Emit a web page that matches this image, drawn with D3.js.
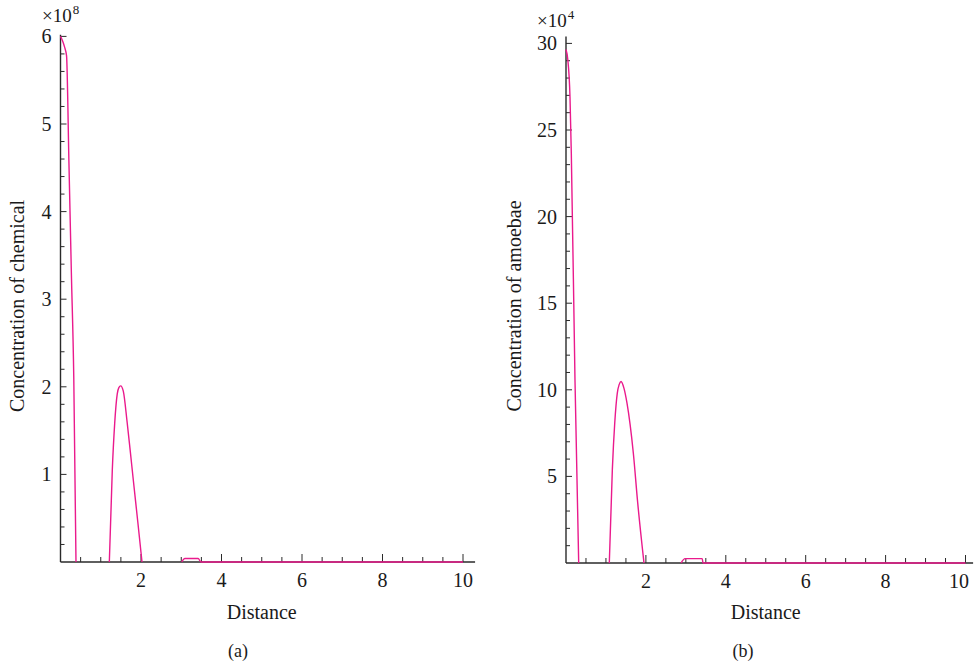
<!DOCTYPE html>
<meta charset="utf-8">

<style>
body {
    margin:0;
    background-color:white;
    }
svg text {
    font-family:"Liberation Serif", "Times New Roman", "DejaVu Serif", serif;
    fill:#1a1a1a;
    }
</style>

<script src="https://d3js.org/d3.v7.min.js"></script>

<div id="chart"></div>

<script>

// panel (a): distance and concentration of chemical (x 10^8)
var distA = [0, 0.05, 0.10, 0.15, 0.21, 0.27, 0.33, 0.385, 0.8,
             1.213, 1.287, 1.346, 1.41, 1.45, 1.495, 1.56, 1.652, 1.73, 1.81, 1.92, 2.025, 2.5,
             3.01, 3.09, 3.42, 3.49, 10];
var chemical = [6.0, 5.95, 5.88, 5.78, 4.55, 3.3, 2.1, 0, null,
                0, 1.05, 1.58, 1.92, 1.99, 2.01, 1.95, 1.61, 1.28, 0.93, 0.46, 0, null,
                0, 0.04, 0.04, 0, 0];

// panel (b): distance and concentration of amoebae (x 10^4)
var distB = [0, 0.043, 0.10, 0.133, 0.225, 0.318, 0.7,
             1.084, 1.16, 1.22, 1.284, 1.33, 1.377, 1.45, 1.527, 1.685, 1.795, 1.952, 2.4,
             2.88, 2.98, 3.41, 3.43, 10];
var amoebae = [29.65, 29.1, 26.9, 23.65, 10.56, 0, null,
               0, 5.39, 8.08, 9.81, 10.3, 10.48, 10.1, 9.23, 6.35, 3.47, 0, null,
               0, 0.25, 0.25, 0, 0];

// tick labels
var xTicks = [2, 4, 6, 8, 10];
var yTicksA = [1, 2, 3, 4, 5, 6];
var yTicksB = [5, 10, 15, 20, 25, 30];

var svg = d3.select("#chart")
  .append("svg")
    .attr("width", 974)
    .attr("height", 667);

var lineColor = "#ea1a8c",
    axisColor = "#2a2a2a";

function panel(cfg) {
  var x = d3.scaleLinear().domain([0, 10]).range(cfg.xRange);
  var y = d3.scaleLinear().domain([0, cfg.yMax]).range(cfg.yRange);
  var g = svg.append("g");

  // axes lines
  g.append("line")
    .attr("x1", x(0)).attr("x2", x(cfg.xEnd))
    .attr("y1", y(0)).attr("y2", y(0))
    .attr("stroke", axisColor).attr("stroke-width", 1.4);
  g.append("line")
    .attr("x1", x(0)).attr("x2", x(0))
    .attr("y1", y(0)).attr("y2", y(cfg.yEnd))
    .attr("stroke", axisColor).attr("stroke-width", 1.4);

  // x ticks, pointing up
  var xMinor = d3.range(0.5, 10.01, 0.5).filter(function(v) { return v % 2 != 0; });
  g.selectAll(".xmin").data(xMinor).enter().append("line")
    .attr("x1", x).attr("x2", x)
    .attr("y1", y(0)).attr("y2", y(0) - 5)
    .attr("stroke", axisColor).attr("stroke-width", 1);
  g.selectAll(".xmaj").data(xTicks).enter().append("line")
    .attr("x1", x).attr("x2", x)
    .attr("y1", y(0)).attr("y2", y(0) - 8)
    .attr("stroke", axisColor).attr("stroke-width", 1);
  // labels are kept inside the picture at the right edge
  g.selectAll(".xlab").data(xTicks).enter().append("text")
    .attr("x", function(d) { return Math.min(x(d), cfg.labelMaxX); })
    .attr("y", y(0) + 25)
    .attr("text-anchor", "middle")
    .attr("font-size", 20)
    .text(function(d) { return d; });

  // y ticks, pointing right
  var yMinor = d3.range(cfg.yMinorStep, cfg.yMax + 0.001, cfg.yMinorStep)
    .filter(function(v) { return cfg.yTicks.indexOf(+v.toFixed(3)) < 0; });
  g.selectAll(".ymin").data(yMinor).enter().append("line")
    .attr("x1", x(0)).attr("x2", x(0) + 4)
    .attr("y1", y).attr("y2", y)
    .attr("stroke", axisColor).attr("stroke-width", 1);
  g.selectAll(".ymaj").data(cfg.yTicks).enter().append("line")
    .attr("x1", x(0)).attr("x2", x(0) + 6)
    .attr("y1", y).attr("y2", y)
    .attr("stroke", axisColor).attr("stroke-width", 1);
  g.selectAll(".ylab").data(cfg.yTicks).enter().append("text")
    .attr("x", x(0) - 9).attr("y", y)
    .attr("dy", "0.35em")
    .attr("text-anchor", "end")
    .attr("font-size", 20)
    .text(function(d) { return d; });

  // multiplier label
  var m = g.append("text")
    .attr("x", cfg.multX).attr("y", cfg.multY)
    .attr("font-size", 19);
  m.append("tspan").text("\u00d710");
  m.append("tspan")
    .attr("dy", -8)
    .attr("dx", 1)
    .attr("font-size", 13)
    .text(cfg.exp);

  // axis titles
  g.append("text")
    .attr("x", (x(0) + x(10)) / 2).attr("y", 619)
    .attr("text-anchor", "middle")
    .attr("font-size", 20)
    .text("Distance");
  g.append("text")
    .attr("transform", "translate(" + cfg.yTitleX + "," + cfg.yTitleY + ") rotate(-90)")
    .attr("text-anchor", "middle")
    .attr("font-size", 20)
    .text(cfg.yTitle);
  g.append("text")
    .attr("x", cfg.tagX).attr("y", 657)
    .attr("text-anchor", "middle")
    .attr("font-size", 18)
    .text(cfg.tag);

  // the curve
  var pts = cfg.xs.map(function(d, i) { return [d, cfg.ys[i]]; });
  var line = d3.line()
    .defined(function(d) { return d[1] != null; })
    .x(function(d) { return x(d[0]); })
    .y(function(d) { return y(d[1]); })
    .curve(d3.curveMonotoneX);
  g.append("path")
    .datum(pts)
    .attr("d", line)
    .attr("fill", "none")
    .attr("stroke", lineColor)
    .attr("stroke-width", 1.4);
}

panel({
  xs: distA, ys: chemical, yTicks: yTicksA,
  xRange: [60.5, 463], yRange: [562, 36.4], xEnd: 10.3,
  yMax: 6, yEnd: 6.02, yMinorStep: 0.2, labelMaxX: 1000,
  multX: 42, multY: 22, exp: "8",
  yTitle: "Concentration of chemical", yTitleX: 24, yTitleY: 306,
  tag: "(a)", tagX: 238
});

panel({
  xs: distB, ys: amoebae, yTicks: yTicksB,
  xRange: [566, 965.5], yRange: [563, 43.4], xEnd: 10.19,
  yMax: 30, yEnd: 30.4, yMinorStep: 1, labelMaxX: 959,
  multX: 537, multY: 27, exp: "4",
  yTitle: "Concentration of amoebae", yTitleX: 521, yTitleY: 306,
  tag: "(b)", tagX: 743
});

</script>
